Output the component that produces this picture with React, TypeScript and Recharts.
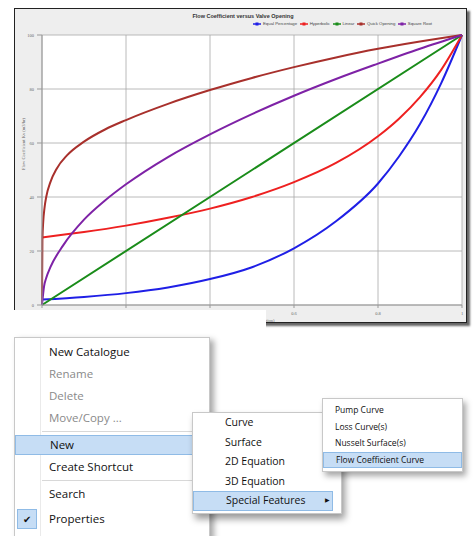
import React from 'react';
import {
  LineChart,
  Line,
  XAxis,
  YAxis,
  CartesianGrid,
  Legend,
} from 'recharts';

// valve opening fraction vs flow coefficient
const equalPercentage = [
  { x: 0, y: 2 }, { x: 0.1, y: 3 }, { x: 0.2, y: 4.4 }, { x: 0.3, y: 6.5 },
  { x: 0.4, y: 9.6 }, { x: 0.5, y: 14 }, { x: 0.6, y: 21 }, { x: 0.7, y: 31 },
  { x: 0.8, y: 45 }, { x: 0.85, y: 55 }, { x: 0.9, y: 67 }, { x: 0.95, y: 82 },
  { x: 1, y: 100 },
];
const hyperbolic = [
  { x: 0, y: 25 }, { x: 0.1, y: 27 }, { x: 0.2, y: 29.4 }, { x: 0.3, y: 32.3 },
  { x: 0.4, y: 35.7 }, { x: 0.5, y: 40 }, { x: 0.6, y: 45.5 }, { x: 0.7, y: 52.6 },
  { x: 0.8, y: 62.5 }, { x: 0.85, y: 69 }, { x: 0.9, y: 77 }, { x: 0.95, y: 87 },
  { x: 1, y: 100 },
];
const linear = [
  { x: 0, y: 0 }, { x: 0.5, y: 50 }, { x: 1, y: 100 },
];
const quickOpening = [
  { x: 0, y: 0 }, { x: 0.001, y: 24 }, { x: 0.003, y: 31 }, { x: 0.006, y: 36 },
  { x: 0.01, y: 40 }, { x: 0.02, y: 45.5 }, { x: 0.035, y: 50.5 }, { x: 0.06, y: 55.5 },
  { x: 0.1, y: 60.5 }, { x: 0.15, y: 65 }, { x: 0.2, y: 68.5 }, { x: 0.3, y: 74.5 },
  { x: 0.4, y: 79.6 }, { x: 0.5, y: 84.1 }, { x: 0.6, y: 88.1 }, { x: 0.7, y: 91.7 },
  { x: 0.8, y: 94.9 }, { x: 0.9, y: 97.6 }, { x: 1, y: 100 },
];
const squareRoot = [
  { x: 0, y: 0 }, { x: 0.005, y: 7 }, { x: 0.01, y: 10 }, { x: 0.02, y: 14 },
  { x: 0.05, y: 22 }, { x: 0.1, y: 31.6 }, { x: 0.15, y: 38.7 }, { x: 0.2, y: 44.7 },
  { x: 0.3, y: 54.8 }, { x: 0.4, y: 63.2 }, { x: 0.5, y: 70.7 }, { x: 0.6, y: 77.5 },
  { x: 0.7, y: 83.7 }, { x: 0.8, y: 89.4 }, { x: 0.9, y: 94.9 }, { x: 1, y: 100 },
];

const xTicks = [0, 0.2, 0.4, 0.6, 0.8, 1];
const yTicks = [0, 20, 40, 60, 80, 100];

const series = [
  { name: 'Equal Percentage', data: equalPercentage, color: '#1f1fe6' },
  { name: 'Hyperbolic', data: hyperbolic, color: '#ee2020' },
  { name: 'Linear', data: linear, color: '#1a8c1a' },
  { name: 'Quick Opening', data: quickOpening, color: '#a8302c' },
  { name: 'Square Root', data: squareRoot, color: '#7e22a6' },
];

const mainMenu = [
  { label: 'New Catalogue' },
  { label: 'Rename', disabled: true },
  { label: 'Delete', disabled: true },
  { label: 'Move/Copy ...', disabled: true },
  { sep: true },
  { label: 'New', active: true },
  { label: 'Create Shortcut' },
  { sep: true },
  { label: 'Search' },
  { label: 'Properties', checked: true },
];
const newMenu = ['Curve', 'Surface', '2D Equation', '3D Equation', 'Special Features'];
const specialMenu = ['Pump Curve', 'Loss Curve(s)', 'Nusselt Surface(s)', 'Flow Coefficient Curve'];

const menuFont = '"Open Sans", "Noto Sans", sans-serif';
const hl = { background: '#c6ddf5', border: '1px solid #8fbbe6' };

function ChartLegend() {
  return (
    <div style={{ display: 'flex', gap: 3, fontSize: 4.3, color: '#444', fontFamily: 'Arial, sans-serif' }}>
      {series.map((s) => (
        <div key={s.name} style={{ display: 'flex', alignItems: 'center', gap: 1.5 }}>
          <svg width={8} height={4}>
            <line x1={0} y1={2} x2={8} y2={2} stroke={s.color} strokeWidth={1.5} />
            <rect x={2.5} y={0.5} width={3} height={3} fill={s.color} />
          </svg>
          <span>{s.name}</span>
        </div>
      ))}
    </div>
  );
}

export default function App() {
  return (
    <div style={{ position: 'absolute', left: 0, top: 0, width: 473, height: 536, background: '#fff', overflow: 'hidden' }}>
      {/* chart window */}
      <div
        style={{
          position: 'absolute',
          left: 14,
          top: 8,
          width: 453,
          height: 315,
          background: '#eeeeee',
          boxSizing: 'border-box',
          border: '1px solid #222',
          boxShadow: '3px 3px 2px #666',
        }}
      >
        <div
          style={{
            position: 'absolute',
            left: 0,
            width: 456,
            top: 4,
            textAlign: 'center',
            fontSize: 5.5,
            fontWeight: 'bold',
            fontFamily: 'Arial, sans-serif',
            color: '#333',
          }}
        >
          Flow Coefficient versus Valve Opening
        </div>
        <LineChart
          width={451}
          height={313}
          margin={{ top: 21, right: 4, left: 0, bottom: 0 }}
        >
          <CartesianGrid stroke="#a8a8a8" strokeWidth={0.8} fill="#fff" horizontalValues={yTicks} verticalValues={xTicks} />
          <XAxis
            type="number"
            dataKey="x"
            domain={[0, 1]}
            ticks={xTicks}
            height={17}
            tick={{ fontSize: 4.5, fill: '#666' }}
            tickSize={3}
            tickMargin={4}
            stroke="#999"
            allowDuplicatedCategory={false}
            label={{ value: 'Valve Opening (fraction)', position: 'insideBottom', offset: 0, fontSize: 4.5, fill: '#666' }}
          />
          <YAxis
            type="number"
            dataKey="y"
            domain={[0, 100]}
            ticks={yTicks}
            width={27}
            tick={{ fontSize: 4.5, fill: '#666' }}
            tickSize={5}
            tickMargin={3}
            stroke="#999"
            label={{ value: 'Flow Coefficient Kv (m3/hr)', angle: -90, position: 'insideLeft', offset: 8, fontSize: 4.5, fill: '#666' }}
          />
          <Legend
            verticalAlign="top"
            align="right"
            wrapperStyle={{ top: 12, right: 34, width: 'auto', left: 'auto' }}
            content={() => <ChartLegend />}
          />
          {series.map((s) => (
            <Line
              key={s.name}
              name={s.name}
              data={s.data}
              dataKey="y"
              type="monotone"
              stroke={s.color}
              strokeWidth={2}
              dot={false}
              isAnimationActive={false}
            />
          ))}
        </LineChart>
      </div>

      {/* cover over bottom-left of chart */}
      <div style={{ position: 'absolute', left: 0, top: 310, width: 266, height: 27, background: '#fff' }} />

      {/* main context menu */}
      <div
        style={{
          position: 'absolute',
          left: 14,
          top: 337,
          width: 196,
          height: 210,
          background: '#fff',
          border: '1px solid #c8c8c8',
          boxShadow: '4px 3px 6px rgba(0,0,0,0.35)',
          fontFamily: menuFont,
          fontSize: 11.5,
          paddingTop: 3,
          boxSizing: 'border-box',
        }}
      >
        <div style={{ position: 'absolute', left: 25, top: 0, bottom: 0, width: 1, background: '#eaeaea' }} />
        {mainMenu.map((m, i) =>
          m.sep ? (
            <div key={i} style={{ height: 5, position: 'relative' }}>
              <div style={{ position: 'absolute', left: 27, right: 2, top: 2, height: 1, background: '#d8d8d8' }} />
            </div>
          ) : (
            <div
              key={i}
              style={{
                position: 'relative',
                height: m.checked ? 28 : 22,
                lineHeight: m.checked ? '28px' : '22px',
                paddingLeft: 34,
                color: m.disabled ? '#8a8a8a' : '#111',
                ...(m.active ? { ...hl, height: 20, lineHeight: '18px', margin: '1px 0' } : {}),
                boxSizing: 'border-box',
              }}
            >
              {m.checked && (
                <div
                  style={{
                    position: 'absolute',
                    left: 2,
                    top: 4,
                    width: 20,
                    height: 20,
                    boxSizing: 'border-box',
                    ...hl,
                    fontSize: 10,
                    lineHeight: '18px',
                    textAlign: 'center',
                  }}
                >
                  ✔
                </div>
              )}
              {m.label}
            </div>
          )
        )}
      </div>

      {/* New submenu */}
      <div
        style={{
          position: 'absolute',
          left: 192,
          top: 412,
          width: 150,
          height: 102,
          background: '#fff',
          border: '1px solid #c8c8c8',
          boxShadow: '3px 5px 7px rgba(0,0,0,0.4)',
          fontFamily: menuFont,
          fontSize: 10.5,
          boxSizing: 'border-box',
        }}
      >
        {newMenu.map((label, i) => {
          const active = i === newMenu.length - 1;
          return (
            <div
              key={label}
              style={{
                position: 'relative',
                height: 19.5,
                lineHeight: '19.5px',
                paddingLeft: 32,
                color: '#111',
                boxSizing: 'border-box',
                ...(active ? { ...hl, width: 140, lineHeight: '17.5px' } : {}),
              }}
            >
              {label}
              {active && (
                <span style={{ position: 'absolute', left: 131, top: 0, fontSize: 6 }}>▶</span>
              )}
            </div>
          );
        })}
      </div>

      {/* Special Features submenu */}
      <div
        style={{
          position: 'absolute',
          left: 322,
          top: 398,
          width: 141,
          height: 74,
          background: '#fff',
          border: '1px solid #c8c8c8',
          boxShadow: '3px 4px 6px rgba(0,0,0,0.35)',
          fontFamily: menuFont,
          fontSize: 8.5,
          paddingTop: 3,
          boxSizing: 'border-box',
        }}
      >
        {specialMenu.map((label, i) => {
          const active = i === specialMenu.length - 1;
          return (
            <div
              key={label}
              style={{
                height: 16.5,
                lineHeight: active ? '14.5px' : '16.5px',
                paddingLeft: 12,
                color: '#111',
                boxSizing: 'border-box',
                ...(active ? hl : {}),
              }}
            >
              {label}
            </div>
          );
        })}
      </div>
    </div>
  );
}
